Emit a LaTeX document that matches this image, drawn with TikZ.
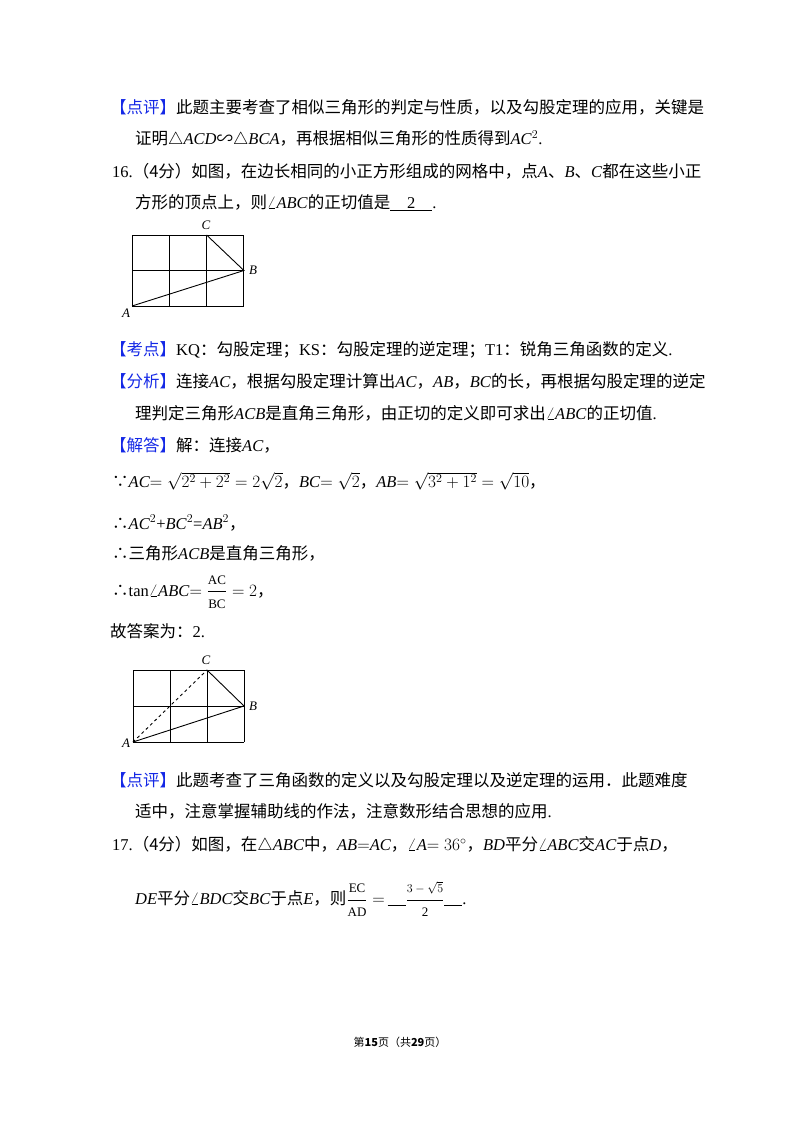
\documentclass[tikz,border=0pt]{standalone}
\usepackage{amsmath}
\usepackage{fontspec}
\setmainfont{Liberation Serif}
\newfontfamily\cjk{Noto Sans CJK SC}
\newcommand{\zh}[1]{{\cjk #1}}
\definecolor{tagblue}{RGB}{20,40,230}
\tikzset{line/.style={anchor=west,inner sep=0pt,font=\fontsize{16.5}{20}\selectfont}}
\tikzset{lbl/.style={inner sep=0pt,font=\itshape\fontsize{13}{15}\selectfont}}
\tikzset{gridline/.style={line width=0.9pt}}
\newcommand{\tagzh}[1]{\textcolor{tagblue}{\zh{【#1】}}}
\newcommand{\smfrac}[2]{\dfrac{\text{\fontsize{13}{14}\selectfont #1}}{\text{\fontsize{13}{14}\selectfont #2}}}
\newcommand{\blank}{\rule[-1pt]{18pt}{0.6pt}}
\begin{document}
\begin{tikzpicture}[x=1pt,y=-1pt]
\useasboundingbox (0,0) rectangle (800,1132);
\node[line] (t1) at (110,107) {\tagzh{点评}\zh{此题主要考查了相似三角形的判定与性质，以及勾股定理的应用，关键是}};
\node[line] (t2) at (135,139) {\zh{证明}$\triangle$\textit{ACD}\zh{∽}$\triangle$\textit{BCA}\zh{，再根据相似三角形的性质得到}\textit{AC}$^2$.};
\node[line] (t3) at (112,171) {16.\zh{（4分）如图，在边长相同的小正方形组成的网格中，点}\textit{A}\zh{、}\textit{B}\zh{、}\textit{C}\zh{都在这些小正}};
\node[line] (t4) at (135,203) {\zh{方形的顶点上，则}$\angle$\textit{ABC}\zh{的正切值是}\underline{\hbox to 42pt{\hfil 2\hfil}}.};
% first grid
\begin{scope}[shift={(132,306)},x=37.3pt,y=35.5pt]
  \foreach \i in {0,...,3} \draw[gridline] (\i,0) -- (\i,2);
  \foreach \j in {0,1,2} \draw[gridline] (0,\j) -- (3,\j);
  \coordinate (a1) at (0,0);
  \coordinate (b1) at (3,1);
  \coordinate (c1) at (2,2);
\end{scope}
\draw[gridline] (a1) -- (b1) -- (c1);
\node[lbl] (la1) at (126,313) {A};
\node[lbl] (lb1) at (253,270) {B};
\node[lbl] (lc1) at (206,225) {C};
\node[line] (t5) at (110,350) {\tagzh{考点}KQ\zh{：勾股定理；}KS\zh{：勾股定理的逆定理；}T1\zh{：锐角三角函数的定义}.};
\node[line] (t6) at (110,381) {\tagzh{分析}\zh{连接}\textit{AC}\zh{，根据勾股定理计算出}\textit{AC}\zh{，}\textit{AB}\zh{，}\textit{BC}\zh{的长，再根据勾股定理的逆定}};
\node[line] (t7) at (135,413) {\zh{理判定三角形}\textit{ACB}\zh{是直角三角形，由正切的定义即可求出}$\angle$\textit{ABC}\zh{的正切值}.};
\node[line] (t8) at (110,445) {\tagzh{解答}\zh{解：连接}\textit{AC}\zh{，}};
\node[line] (t9) at (112,481) {\zh{∵}\textit{AC}$=\sqrt{2^2+2^2}=2\sqrt{2}$\zh{，}\textit{BC}$=\sqrt{2}$\zh{，}\textit{AB}$=\sqrt{3^2+1^2}=\sqrt{10}$\zh{，}};
\node[line] (t10) at (112,523) {\zh{∴}\textit{AC}$^2$+\textit{BC}$^2$=\textit{AB}$^2$\zh{，}};
\node[line] (t11) at (112,553) {\zh{∴三角形}\textit{ACB}\zh{是直角三角形，}};
\node[line] (t12) at (112,592) {\zh{∴}tan$\angle$\textit{ABC}$=\smfrac{AC}{BC}=2$\zh{，}};
\node[line] (t13) at (110,631) {\zh{故答案为：}2.};
% second grid
\begin{scope}[shift={(133,742)},x=37pt,y=36pt]
  \foreach \i in {0,...,3} \draw[gridline] (\i,0) -- (\i,2);
  \foreach \j in {0,1,2} \draw[gridline] (0,\j) -- (3,\j);
  \coordinate (a2) at (0,0);
  \coordinate (b2) at (3,1);
  \coordinate (c2) at (2,2);
\end{scope}
\draw[gridline] (a2) -- (b2) -- (c2);
\draw[gridline,dashed] (a2) -- (c2);
\node[lbl] (la2) at (126,743) {A};
\node[lbl] (lb2) at (253,706) {B};
\node[lbl] (lc2) at (206,660) {C};
\node[line] (t14) at (110,780) {\tagzh{点评}\zh{此题考查了三角函数的定义以及勾股定理以及逆定理的运用．此题难度}};
\node[line] (t15) at (135,811) {\zh{适中，注意掌握辅助线的作法，注意数形结合思想的应用}.};
\node[line] (t16) at (112,845) {17.\zh{（4分）如图，在}$\triangle$\textit{ABC}\zh{中，}\textit{AB}$=$\textit{AC}\zh{，}$\angle$\textit{A}$=36^\circ$\zh{，}\textit{BD}\zh{平分}$\angle$\textit{ABC}\zh{交}\textit{AC}\zh{于点}\textit{D}\zh{，}};
\node[line] (t17) at (135,899) {\textit{DE}\zh{平分}$\angle$\textit{BDC}\zh{交}\textit{BC}\zh{于点}\textit{E}\zh{，则}$\smfrac{EC}{AD}=$\,\blank$\smfrac{$3-\sqrt{5}$}{2}$\blank.};
\node[inner sep=0pt,font=\fontsize{11}{13}\selectfont] (foot) at (400,1042) {\zh{第\textbf{15}页（共\textbf{29}页）}};
\end{tikzpicture}
\end{document}
